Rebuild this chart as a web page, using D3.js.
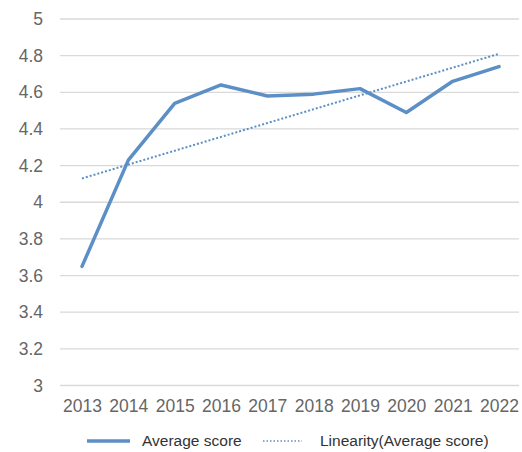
<!DOCTYPE html>
<html>
<head>
<meta charset="utf-8">
<script src="https://cdn.jsdelivr.net/npm/d3@7"></script>
<style>
  body { margin: 0; background: #fff; }
  text { font-family: "Liberation Sans", Arial, sans-serif; fill: #595959; }
</style>
</head>
<body>
<div class="chart"></div>
<script>
// data
var years = ["2013", "2014", "2015", "2016", "2017", "2018", "2019", "2020", "2021", "2022"];
var avgScore = [3.65, 4.23, 4.54, 4.64, 4.58, 4.59, 4.62, 4.49, 4.66, 4.74];
var trendEnds = [4.13, 4.81];   // linear trend at first and last year
var yTicks = [3, 3.2, 3.4, 3.6, 3.8, 4, 4.2, 4.4, 4.6, 4.8, 5];
var seriesName = "Average score";
var trendName = "Linearity(Average score)";

var width = 522, height = 452;
var blue = "#5b8fc5";

var svg = d3.select(".chart").append("svg")
    .attr("width", width)
    .attr("height", height);

// scales
var x = d3.scalePoint().domain(years).range([82, 499]);
var y = d3.scaleLinear().domain([3, 5]).range([385.5, 19]);

// grid lines
svg.append("g")
    .selectAll("line")
    .data(yTicks)
    .enter()
    .append("line")
        .attr("x1", 60)
        .attr("x2", 519)
        .attr("y1", function(d) { return y(d); })
        .attr("y2", function(d) { return y(d); })
        .style("stroke", "#d9d9d9")
        .style("stroke-width", 1.3);

// y axis labels
var yaxis = d3.axisLeft(y).tickValues(yTicks).tickSize(0).tickPadding(0)
    .tickFormat(function(d) { return d3.format("")(+d.toFixed(1)); });
var gy = svg.append("g")
    .attr("transform", "translate(43,0)")
    .call(yaxis);
gy.select(".domain").remove();
gy.selectAll("text")
    .style("font-family", "Liberation Sans, Arial, sans-serif")
    .style("font-size", "17.5px").style("fill", "#666");

// x axis labels
var xaxis = d3.axisBottom(x).tickSize(0).tickPadding(0);
var gx = svg.append("g")
    .attr("transform", "translate(0,400)")
    .call(xaxis);
gx.select(".domain").remove();
gx.selectAll("text")
    .style("font-family", "Liberation Sans, Arial, sans-serif")
    .style("font-size", "17.5px").style("fill", "#666");

// trend line (dotted)
var trend = [{ year: years[0], v: trendEnds[0] }, { year: years[years.length - 1], v: trendEnds[1] }];
svg.append("path")
    .datum(trend)
    .attr("d", d3.line()
        .x(function(d) { return x(d.year); })
        .y(function(d) { return y(d.v); }))
    .style("fill", "none")
    .style("stroke", blue)
    .style("stroke-width", 2)
    .style("stroke-dasharray", "2,2");

// main line
var pts = years.map(function(yr, i) { return { year: yr, v: avgScore[i] }; });
svg.append("path")
    .datum(pts)
    .attr("d", d3.line()
        .x(function(d) { return x(d.year); })
        .y(function(d) { return y(d.v); }))
    .style("fill", "none")
    .style("stroke", blue)
    .style("stroke-width", 3.5)
    .style("stroke-linejoin", "round")
    .style("stroke-linecap", "round");

// legend
var leg = svg.append("g").attr("transform", "translate(0,441)");
leg.append("line")
    .attr("x1", 87).attr("x2", 130)
    .style("stroke", blue).style("stroke-width", 3.5);
leg.append("text")
    .attr("x", 142).attr("dy", "0.35em")
    .style("font-size", "15.5px")
    .style("fill", "#333")
    .text(seriesName);
leg.append("line")
    .attr("x1", 263).attr("x2", 302)
    .style("stroke", blue).style("stroke-width", 1.3)
    .style("stroke-dasharray", "1.5,2");
leg.append("text")
    .attr("x", 320).attr("dy", "0.35em")
    .style("font-size", "15.5px")
    .style("fill", "#333")
    .text(trendName);
</script>
</body>
</html>
